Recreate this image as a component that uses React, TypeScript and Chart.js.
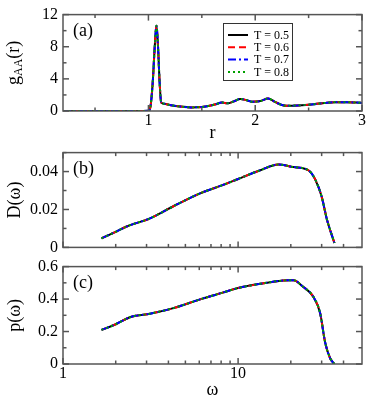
import React, { useEffect, useRef } from "react";
import { Chart, registerables } from "chart.js";

Chart.register(...registerables);

const FONT = "Liberation Serif";
Chart.defaults.font.family = FONT;
Chart.defaults.color = "#000";

// ---- series meta ----
const temperatureLabels = ["T = 0.5", "T = 0.6", "T = 0.7", "T = 0.8"];
const seriesColors = ["#000000", "#ff0000", "#0000ff", "#00a000"];
const seriesDashes: number[][] = [[], [7, 4], [8, 3, 2, 3], [2, 3]];

// ---- panel (a): g_AA(r) ----
const rValues = [0.2, 0.5, 0.8, 0.95, 1.0, 1.02, 1.04, 1.06, 1.075, 1.09, 1.105, 1.12, 1.15, 1.2, 1.3, 1.4, 1.5, 1.55, 1.62, 1.69, 1.74, 1.8, 1.86, 1.92, 1.97, 2.05, 2.12, 2.19, 2.25, 2.3, 2.4, 2.55, 2.65, 2.75, 2.85, 2.95, 3.0];
const gAAValues = [0, 0, 0, 0, 0.02, 0.6, 3.5, 8.2, 10.6, 8.0, 3.5, 1.05, 0.9, 0.75, 0.55, 0.45, 0.5, 0.6, 0.8, 1.05, 0.95, 1.2, 1.5, 1.35, 1.15, 1.25, 1.55, 1.1, 0.75, 0.65, 0.7, 0.85, 1.0, 1.1, 1.1, 1.05, 1.0];

// ---- panel (b): D(omega) ----
const omegaD = [1.66, 2.0, 2.31, 3.14, 4.27, 6.07, 8.07, 10.0, 13.4, 17.0, 20.7, 25.2, 27.5, 30.0, 32.1, 35.5];
const dosValues = [0.0048, 0.0082, 0.011, 0.0153, 0.0217, 0.0285, 0.0327, 0.0361, 0.0407, 0.0437, 0.0424, 0.0407, 0.036, 0.0268, 0.015, 0.0023];

// ---- panel (c): p(omega) ----
const omegaP = [1.66, 2.0, 2.41, 2.64, 3.14, 4.27, 6.07, 8.07, 10.0, 13.4, 18.1, 20.7, 23.6, 26.9, 29.4, 31.4, 33.6, 35.5];
const participationValues = [0.21, 0.245, 0.288, 0.298, 0.31, 0.344, 0.398, 0.438, 0.468, 0.494, 0.514, 0.516, 0.474, 0.414, 0.314, 0.134, 0.034, 0.0];

// ---- ticks ----
const rMajor = [1, 2, 3];
const rMinor = [0.5, 1.5, 2.5];
const gMajor = [0, 4, 8, 12];
const gMinor = [2, 6, 10];
const omegaMajor = [1, 10];
const omegaMinor = [2, 3, 4, 5, 6, 7, 8, 9, 20, 30, 40];
const dMajor = [0, 0.02, 0.04];
const dMinor = [0.01, 0.03, 0.05];
const pMajor = [0, 0.2, 0.4, 0.6];
const pMinor = [0.1, 0.3, 0.5];

type Spec = {
  top: number;
  height: number;
  padTop: number;
  plotH: number;
  xs: number[];
  ys: number[];
  xType: "linear" | "logarithmic";
  xMin: number;
  xMax: number;
  yMin: number;
  yMax: number;
  xMajor: number[];
  xMinor: number[];
  yMajor: number[];
  yMinor: number[];
  yFmt: (v: number) => string;
  showXLabels: boolean;
  xTitle: string;
  xTitlePad: number;
  yTitle: string;
  panelLabel: string;
  legend: boolean;
  customYTitle: boolean;
};

const specs: Spec[] = [
  {
    top: 0, height: 146, padTop: 11, plotH: 100,
    xs: rValues, ys: gAAValues, xType: "linear", xMin: 0.2, xMax: 3, yMin: 0, yMax: 12,
    xMajor: rMajor, xMinor: rMinor, yMajor: gMajor, yMinor: gMinor,
    yFmt: (v) => String(v), showXLabels: true, xTitle: "r", xTitlePad: 2,
    yTitle: "", panelLabel: "(a)", legend: true, customYTitle: true,
  },
  {
    top: 138, height: 124, padTop: 13, plotH: 98.5,
    xs: omegaD, ys: dosValues, xType: "logarithmic", xMin: 1, xMax: 51, yMin: 0, yMax: 0.05,
    xMajor: omegaMajor, xMinor: omegaMinor, yMajor: dMajor, yMinor: dMinor,
    yFmt: (v) => (v === 0 ? "0" : v.toFixed(2)), showXLabels: false, xTitle: "", xTitlePad: 0,
    yTitle: "D(ω)", panelLabel: "(b)", legend: false, customYTitle: false,
  },
  {
    top: 252, height: 153, padTop: 12, plotH: 100,
    xs: omegaP, ys: participationValues, xType: "logarithmic", xMin: 1, xMax: 51, yMin: 0, yMax: 0.6,
    xMajor: omegaMajor, xMinor: omegaMinor, yMajor: pMajor, yMinor: pMinor,
    yFmt: (v) => (v === 0 ? "0" : v.toFixed(1)), showXLabels: true, xTitle: "ω", xTitlePad: 4,
    yTitle: "p(ω)", panelLabel: "(c)", legend: false, customYTitle: false,
  },
];

const framePlugin = {
  id: "frame",
  afterDatasetsDraw(chart: any, _args: any, opts: any) {
    const { ctx, chartArea } = chart;
    const { left, right, top, bottom } = chartArea;
    const xs = chart.scales.x;
    const ys = chart.scales.y;
    ctx.save();
    ctx.strokeStyle = "#555";
    ctx.lineWidth = 1.5;
    ctx.setLineDash([]);
    ctx.strokeRect(left, top, right - left, bottom - top);
    const seg = (x1: number, y1: number, x2: number, y2: number) => {
      ctx.beginPath();
      ctx.moveTo(x1, y1);
      ctx.lineTo(x2, y2);
      ctx.stroke();
    };
    const xt = (vals: number[], len: number) =>
      vals.forEach((v) => {
        const px = xs.getPixelForValue(v);
        if (px < left - 0.5 || px > right + 0.5) return;
        seg(px, bottom, px, bottom - len);
        seg(px, top, px, top + len);
      });
    const yt = (vals: number[], len: number) =>
      vals.forEach((v) => {
        const py = ys.getPixelForValue(v);
        if (py < top - 0.5 || py > bottom + 0.5) return;
        seg(left, py, left + len, py);
        seg(right, py, right - len, py);
      });
    xt(opts.xMajor, 6);
    xt(opts.xMinor, 3.5);
    yt(opts.yMajor, 6);
    yt(opts.yMinor, 3.5);

    // panel label
    ctx.fillStyle = "#000";
    ctx.font = `18px "${FONT}"`;
    ctx.textAlign = "left";
    ctx.textBaseline = "middle";
    ctx.fillText(opts.panelLabel, left + 10, top + 16.5);

    // custom y title with subscript
    if (opts.customYTitle) {
      ctx.save();
      ctx.translate(14, (top + bottom) / 2);
      ctx.rotate(-Math.PI / 2);
      ctx.textBaseline = "middle";
      ctx.textAlign = "left";
      ctx.font = `18px "${FONT}"`;
      const wG = ctx.measureText("g").width;
      const wR = ctx.measureText("(r)").width;
      ctx.font = `12px "${FONT}"`;
      const wA = ctx.measureText("AA").width;
      const total = wG + wA + wR;
      let x = -total / 2;
      ctx.font = `18px "${FONT}"`;
      ctx.fillText("g", x, 0);
      x += wG;
      ctx.font = `12px "${FONT}"`;
      ctx.fillText("AA", x, 5);
      x += wA;
      ctx.font = `18px "${FONT}"`;
      ctx.fillText("(r)", x, 0);
      ctx.restore();
    }

    // legend
    if (opts.legend) {
      const bx = 223, by = 23, bw = 69, bh = 57;
      ctx.strokeStyle = "#333";
      ctx.lineWidth = 1;
      ctx.strokeRect(bx + 0.5, by + 0.5, bw, bh);
      chart.data.datasets.forEach((ds: any, i: number) => {
        const yy = 35 + i * 12.3;
        ctx.strokeStyle = ds.borderColor;
        ctx.lineWidth = 2;
        ctx.setLineDash(ds.borderDash || []);
        seg(228, yy, 248, yy);
        ctx.setLineDash([]);
        ctx.fillStyle = "#000";
        ctx.font = `12px "${FONT}"`;
        ctx.textAlign = "left";
        ctx.textBaseline = "middle";
        ctx.fillText(ds.label, 254, yy + 0.5);
      });
    }
    ctx.restore();
  },
};

function buildDatasets(xs: number[], ys: number[]) {
  return temperatureLabels.map((label, i) => ({
    label,
    data: xs.map((x, j) => ({ x, y: ys[j] })),
    borderColor: seriesColors[i],
    backgroundColor: seriesColors[i],
    borderDash: seriesDashes[i],
    borderWidth: 2,
    pointRadius: 0,
    fill: false,
    cubicInterpolationMode: "monotone" as const,
    order: 4 - i,
  }));
}

function Panel({ spec }: { spec: Spec }) {
  const ref = useRef<HTMLCanvasElement | null>(null);
  useEffect(() => {
    if (!ref.current) return;
    const xAxisH = spec.height - spec.padTop - spec.plotH;
    const chart = new Chart(ref.current, {
      type: "line",
      data: { datasets: buildDatasets(spec.xs, spec.ys) as any },
      options: {
        responsive: false,
        animation: false,
        devicePixelRatio: 1,
        layout: { padding: { top: spec.padTop, right: 12, left: 0, bottom: 0 } },
        plugins: {
          legend: { display: false },
          tooltip: { enabled: false },
          frame: {
            xMajor: spec.xMajor, xMinor: spec.xMinor, yMajor: spec.yMajor, yMinor: spec.yMinor,
            panelLabel: spec.panelLabel, legend: spec.legend, customYTitle: spec.customYTitle,
          },
        } as any,
        scales: {
          x: {
            type: spec.xType,
            min: spec.xMin,
            max: spec.xMax,
            grid: { display: false, drawTicks: false },
            border: { display: false },
            ticks: {
              display: spec.showXLabels,
              padding: 0,
              color: "#000",
              maxRotation: 0,
              autoSkip: false,
              font: { size: 16, family: FONT },
              callback: (v: any) => String(v),
            },
            afterBuildTicks: (s: any) => {
              s.ticks = spec.xMajor.map((v) => ({ value: v }));
            },
            afterFit: (s: any) => {
              s.height = xAxisH;
            },
            title: {
              display: spec.xTitle !== "",
              text: spec.xTitle,
              color: "#000",
              font: { size: 18, family: FONT },
              padding: { top: 0, bottom: spec.xTitlePad },
            },
          } as any,
          y: {
            type: "linear",
            min: spec.yMin,
            max: spec.yMax,
            grid: { display: false, drawTicks: false },
            border: { display: false },
            ticks: {
              padding: 5,
              color: "#000",
              font: { size: 16, family: FONT },
              callback: (v: any) => spec.yFmt(Number(v)),
            },
            afterBuildTicks: (s: any) => {
              s.ticks = spec.yMajor.map((v) => ({ value: v }));
            },
            afterFit: (s: any) => {
              s.width = 63;
            },
            title: {
              display: spec.yTitle !== "",
              text: spec.yTitle,
              color: "#000",
              font: { size: 18, family: FONT },
              padding: { top: 4, bottom: 0 },
            },
          } as any,
        },
      },
      plugins: [framePlugin as any],
    });
    return () => chart.destroy();
  }, [spec]);
  return (
    <canvas
      ref={ref}
      width={374}
      height={spec.height}
      style={{ position: "absolute", left: 0, top: spec.top, width: 374, height: spec.height }}
    />
  );
}

export default function App() {
  return (
    <div style={{ position: "absolute", left: 0, top: 0, width: 374, height: 405, background: "#fff" }}>
      {specs.map((s, i) => (
        <Panel key={i} spec={s} />
      ))}
    </div>
  );
}
